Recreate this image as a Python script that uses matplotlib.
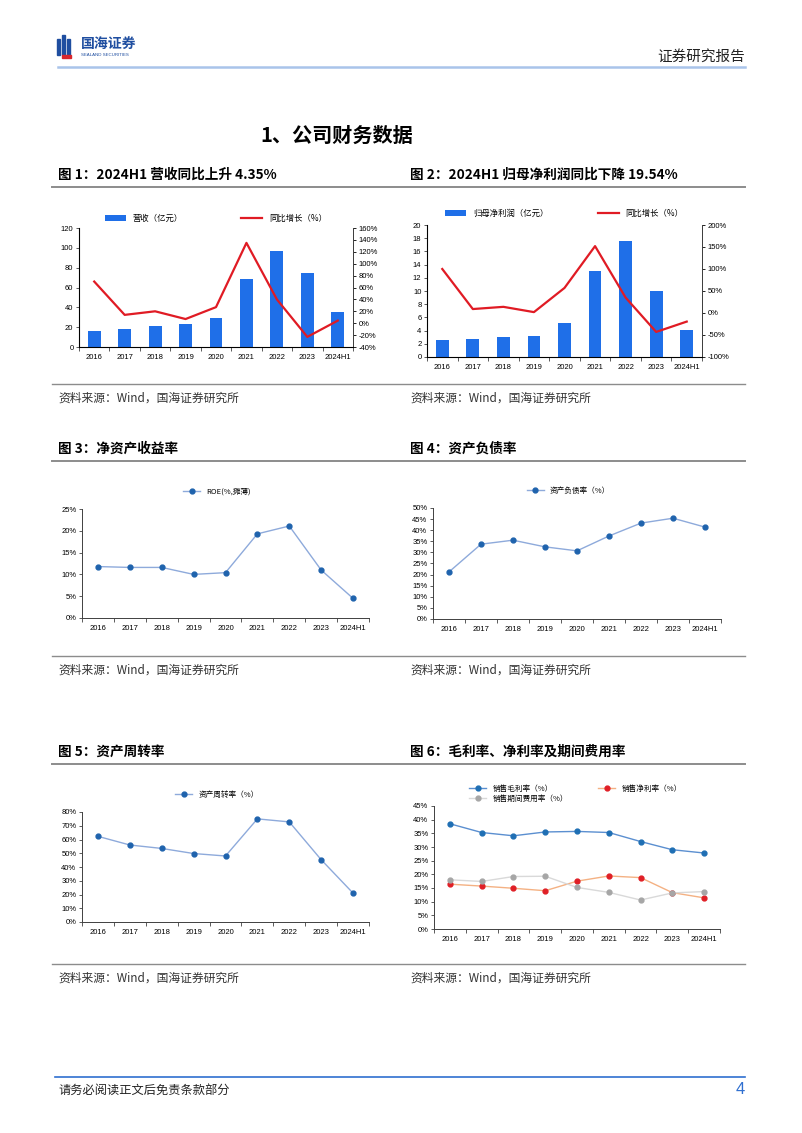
"""
国海证券 - 公司财务数据 (图1 ~ 图6)
"""

import numpy as np
import matplotlib
matplotlib.use("Agg")
import matplotlib.pyplot as plt
from matplotlib.lines import Line2D
from matplotlib.patches import Rectangle
from matplotlib.ticker import FuncFormatter, MultipleLocator

plt.rcParams['font.family'] = ['Liberation Sans', 'Noto Sans CJK SC', 'DejaVu Sans']
plt.rcParams['axes.unicode_minus'] = False

# ==================== DONNÉES ====================
annees = ['2016', '2017', '2018', '2019', '2020', '2021', '2022', '2023', '2024H1']

revenu = [16, 18, 21.5, 23, 29, 69, 97, 75, 35.5]                 # 营收（亿元）
revenu_yoy = [70, 14, 20, 7, 27, 135, 40, -23, 4.35]              # 同比增长（%）

benefice = [2.5, 2.8, 3.1, 3.2, 5.2, 13.0, 17.6, 10.0, 4.1]      # 归母净利润（亿元）
benefice_yoy = [100, 9, 14, 2, 57, 152, 35, -43, -19.54]          # 同比增长（%）

roe = [11.8, 11.6, 11.6, 10.0, 10.4, 19.3, 21.1, 11.0, 4.5]
endettement = [21.2, 33.7, 35.5, 32.5, 30.7, 37.4, 43.2, 45.4, 41.4]
rotation = [62.3, 56.0, 53.5, 49.8, 48.0, 75.0, 72.8, 45.3, 21.0]

marge_brute = [38.5, 35.3, 34.1, 35.5, 35.7, 35.3, 32.0, 29.0, 27.8]
marge_nette = [16.4, 15.7, 14.9, 14.0, 17.5, 19.4, 18.8, 13.3, 11.4]
taux_frais = [18.0, 17.4, 19.2, 19.3, 15.2, 13.4, 10.6, 13.2, 13.7]

W, H = 802, 1133
fig = plt.figure(figsize=(W / 100, H / 100), dpi=100)


def fx(x):
    return x / W


def fy(y):
    return 1 - y / H


def ajouter_axes(x0, y0, x1, y1):
    """Axes en pixels (haut-gauche / bas-droit)"""
    return fig.add_axes([fx(x0), fy(y1), fx(x1 - x0), (y1 - y0) / H])


def ligne_h(y, x0=55, x1=745, color='#7f7f7f', lw=1.2):
    fig.add_artist(Line2D([fx(x0), fx(x1)], [fy(y), fy(y)], color=color, lw=lw,
                          transform=fig.transFigure))


def style_axes(ax, right=False):
    ax.spines['top'].set_visible(False)
    if not right:
        ax.spines['right'].set_visible(False)
    for s in ax.spines.values():
        s.set_color('#404040')
        s.set_linewidth(0.7)
    ax.set_xlim(-0.5, len(annees) - 0.5)
    ax.set_xticks(range(len(annees)))
    ax.set_xticklabels(annees, fontsize=5.5)
    ax.set_xticks(np.arange(-0.5, len(annees), 1), minor=True)
    ax.tick_params(axis='x', which='major', length=0, pad=5)
    ax.tick_params(axis='x', which='minor', length=3, width=0.6, color='#404040')
    ax.tick_params(axis='y', labelsize=5.5, length=2, width=0.6, color='#404040', pad=2)


pct = FuncFormatter(lambda v, p: f"{v:.0f}%")
cjk = ['Noto Sans CJK SC', 'DejaVu Sans']

# ==================== EN-TÊTE ====================
# petit logo
for i, h in enumerate([16, 20, 16]):
    fig.add_artist(Rectangle((fx(57 + i * 5), fy(55)), fx(3), h / H, color='#1f4ea0',
                             transform=fig.transFigure))
fig.add_artist(Rectangle((fx(62), fy(58)), fx(9), 3 / H, color='#d9262c',
                         transform=fig.transFigure))
fig.text(fx(81), fy(44), '国海证券', fontsize=10, fontweight='bold', color='#1f4ea0',
         va='center', family=cjk)
fig.text(fx(81), fy(54.5), 'SEALAND SECURITIES', fontsize=3.2, color='#1f4ea0', va='center')
fig.text(fx(745), fy(57), '证券研究报告', fontsize=10.5, ha='right', va='center',
         family=cjk, color='#222222')
ligne_h(67, 58, 745, color='#a9c4ea', lw=1.8)

fig.text(fx(337), fy(135), '1、公司财务数据', fontsize=14.5, fontweight='bold', ha='center',
         va='center', family=cjk)

# titres et sources
titres = [
    (58, 175, '图 1：2024H1 营收同比上升 4.35%'),
    (410, 175, '图 2：2024H1 归母净利润同比下降 19.54%'),
    (58, 449, '图 3：净资产收益率'),
    (410, 449, '图 4：资产负债率'),
    (58, 752, '图 5：资产周转率'),
    (410, 752, '图 6：毛利率、净利率及期间费用率'),
]
for xt, yt, t in titres:
    fig.text(fx(xt), fy(yt), t, fontsize=9.8, fontweight='bold', va='center', family=cjk)

for y in [187, 461, 764]:
    ligne_h(y, 52, 745, color='#8c8c8c', lw=1.4)
for y in [384, 656, 964]:
    ligne_h(y, 52, 745, color='#8c8c8c', lw=1.0)
    for xs in [58, 410]:
        fig.text(fx(xs), fy(y + 14), '资料来源：Wind，国海证券研究所', fontsize=8.5, va='center',
                 family=cjk, color='#333333')

# pied de page
ligne_h(1077, 55, 745, color='#2f6fd0', lw=1.2)
fig.text(fx(58), fy(1090), '请务必阅读正文后免责条款部分', fontsize=8.8, va='center',
         family=cjk, color='#222222')
fig.text(fx(745), fy(1090), '4', fontsize=12, ha='right', va='center', color='#2f6fd0')

x = np.arange(len(annees))
bleu_barre = '#1f6fe8'
rouge = '#e01b24'

# ==================== Graphique 1 ====================
ax1 = ajouter_axes(79, 228, 353, 347)
ax1.bar(x, revenu, width=0.42, color=bleu_barre, label='营收（亿元）')
style_axes(ax1, right=True)
ax1.set_ylim(0, 120)
ax1.yaxis.set_major_locator(MultipleLocator(20))
ax1b = ax1.twinx()
ax1b.plot(x, revenu_yoy, color=rouge, lw=1.6, label='同比增长（%）')
ax1b.set_ylim(-40, 160)
ax1b.yaxis.set_major_locator(MultipleLocator(20))
ax1b.yaxis.set_major_formatter(pct)
ax1b.tick_params(axis='y', labelsize=5.5, length=2, width=0.6, pad=2)
ax1b.spines['top'].set_visible(False)
ax1b.spines['right'].set_color('#404040')
ax1b.spines['right'].set_linewidth(0.7)
h1, l1 = ax1.get_legend_handles_labels()
h2, l2 = ax1b.get_legend_handles_labels()
ax1.legend(h1 + h2, l1 + l2, loc='lower center', bbox_to_anchor=(0.5, 0.98), ncol=2,
           frameon=False, columnspacing=7, handlelength=2.5,
           prop={'family': cjk, 'size': 6})

# ==================== Graphique 2 ====================
ax2 = ajouter_axes(427, 225, 702, 357)
ax2.bar(x, benefice, width=0.42, color=bleu_barre, label='归母净利润（亿元）')
style_axes(ax2, right=True)
ax2.set_ylim(0, 20)
ax2.yaxis.set_major_locator(MultipleLocator(2))
ax2b = ax2.twinx()
ax2b.plot(x, benefice_yoy, color=rouge, lw=1.6, label='同比增长（%）')
ax2b.set_ylim(-100, 200)
ax2b.yaxis.set_major_locator(MultipleLocator(50))
ax2b.yaxis.set_major_formatter(pct)
ax2b.tick_params(axis='y', labelsize=5.5, length=2, width=0.6, pad=2)
ax2b.spines['top'].set_visible(False)
ax2b.spines['right'].set_color('#404040')
ax2b.spines['right'].set_linewidth(0.7)
h1, l1 = ax2.get_legend_handles_labels()
h2, l2 = ax2b.get_legend_handles_labels()
ax2.legend(h1 + h2, l1 + l2, loc='lower center', bbox_to_anchor=(0.5, 1.0), ncol=2,
           frameon=False, columnspacing=6, handlelength=2.5,
           prop={'family': cjk, 'size': 6})

# ==================== Graphiques 3 / 4 / 5 ====================
ligne_bleue = '#8eaadb'
point_bleu = '#1f63ad'


def graphe_ligne(rect, valeurs, ymax, pas, label):
    ax = ajouter_axes(*rect)
    ax.plot(x, valeurs, color=ligne_bleue, lw=1.0, marker='o', markersize=3.5,
            markerfacecolor=point_bleu, markeredgecolor=point_bleu, label=label)
    style_axes(ax)
    ax.set_ylim(0, ymax)
    ax.yaxis.set_major_locator(MultipleLocator(pas))
    ax.yaxis.set_major_formatter(pct)
    ax.legend(loc='lower center', bbox_to_anchor=(0.47, 1.06), frameon=False,
              handlelength=2.2, prop={'family': cjk, 'size': 5.5})
    return ax


graphe_ligne((82, 509, 369, 618), roe, 25, 5, 'ROE(%,摊薄)')
graphe_ligne((433, 508, 721, 619), endettement, 50, 5, '资产负债率（%）')
graphe_ligne((82, 812, 369, 922), rotation, 80, 10, '资产周转率（%）')

# ==================== Graphique 6 ====================
ax6 = ajouter_axes(434, 806, 720, 929)
l_a, = ax6.plot(x, marge_brute, color='#5b8fd0', lw=1.0, marker='o', markersize=3.5,
                markerfacecolor='#1f6fb4', markeredgecolor='#1f6fb4', label='销售毛利率（%）')
l_b, = ax6.plot(x, marge_nette, color='#f4b183', lw=1.0, marker='o', markersize=3.5,
                markerfacecolor='#e01f26', markeredgecolor='#e01f26', label='销售净利率（%）')
l_c, = ax6.plot(x, taux_frais, color='#d9d9d9', lw=1.0, marker='o', markersize=3.5,
                markerfacecolor='#a6a6a6', markeredgecolor='#a6a6a6', label='销售期间费用率（%）')
style_axes(ax6)
ax6.set_ylim(0, 45)
ax6.yaxis.set_major_locator(MultipleLocator(5))
ax6.yaxis.set_major_formatter(pct)
ax6.legend([l_a, l_c, l_b], [l_a.get_label(), l_c.get_label(), l_b.get_label()],
           loc='lower left', bbox_to_anchor=(0.1, 0.97), ncol=2, frameon=False,
           columnspacing=4, handlelength=2.2, labelspacing=0.3,
           prop={'family': cjk, 'size': 5.5})

plt.savefig('out.png', dpi=100)
